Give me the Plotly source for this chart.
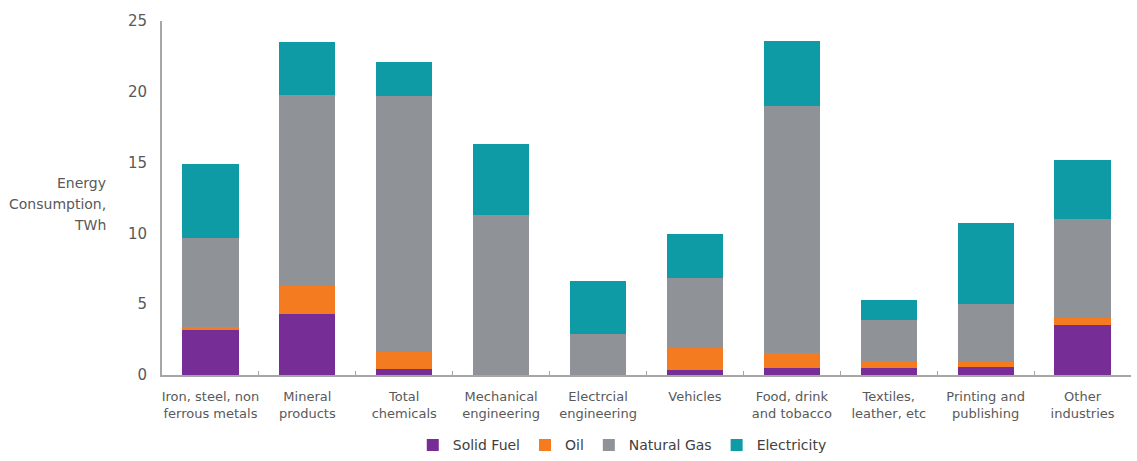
import plotly.graph_objects as go

categories = ["Iron, steel, non<br>ferrous metals", "Mineral<br>products", "Total<br>chemicals",
              "Mechanical<br>engineering", "Electrcial<br>engineering", "Vehicles",
              "Food, drink<br>and tobacco", "Textiles,<br>leather, etc", "Printing and<br>publishing",
              "Other<br>industries"]
solid_fuel = [3.2, 4.3, 0.4, 0.0, 0.0, 0.35, 0.5, 0.5, 0.6, 3.55]
oil = [0.2, 2.0, 1.2, 0.0, 0.0, 1.55, 1.05, 0.5, 0.35, 0.45]
natural_gas = [6.3, 13.5, 18.1, 11.3, 2.9, 4.95, 17.45, 2.9, 4.05, 7.05]
electricity = [5.2, 3.7, 2.4, 5.0, 3.75, 3.1, 4.6, 1.4, 5.7, 4.15]
axis_title_lines = ["Energy", "Consumption,", "TWh"]

series = [("Solid Fuel", solid_fuel, "#762D96"), ("Oil", oil, "#F47B20"),
          ("Natural Gas", natural_gas, "#8F9397"), ("Electricity", electricity, "#0F9BA6")]

FONT = "DejaVu Sans"
TXT = "#595959"

fig = go.Figure()
for name, vals, col in series:
    fig.add_trace(go.Bar(x=categories, y=vals, name=name, marker=dict(color=col, line=dict(width=0))))

fig.update_layout(
    barmode="stack", bargap=0.42,
    width=1137, height=461,
    margin=dict(l=162, r=6, t=21, b=86, autoexpand=False),
    plot_bgcolor="white", paper_bgcolor="white",
    font=dict(family=FONT, size=13, color=TXT),
    legend=dict(orientation="h", x=0.475, xanchor="center", y=-0.244, yanchor="bottom",
                font=dict(size=14, color="#404040"), traceorder="normal", itemwidth=30),
    showlegend=True,
)
fig.update_xaxes(showline=True, linecolor="#A6A6A6", linewidth=2, ticks="inside", tickson="boundaries",
                 ticklen=4, tickcolor="#A6A6A6", tickangle=0, automargin=False,
                 ticklabelstandoff=8, tickfont=dict(size=13, color=TXT))
fig.update_yaxes(range=[0, 25], dtick=5, showgrid=False, showline=True, linecolor="#A6A6A6", linewidth=2,
                 zeroline=False, ticks="", tickfont=dict(size=15, color=TXT), ticklabelstandoff=10,
                 automargin=False)
for i, line in enumerate(axis_title_lines):
    fig.add_annotation(text=line, xref="paper", yref="paper", x=-0.056, y=0.543 - i * 0.0595,
                       xanchor="right", yanchor="middle", align="right", showarrow=False,
                       font=dict(size=14, color=TXT))

fig.write_html("out.html")
